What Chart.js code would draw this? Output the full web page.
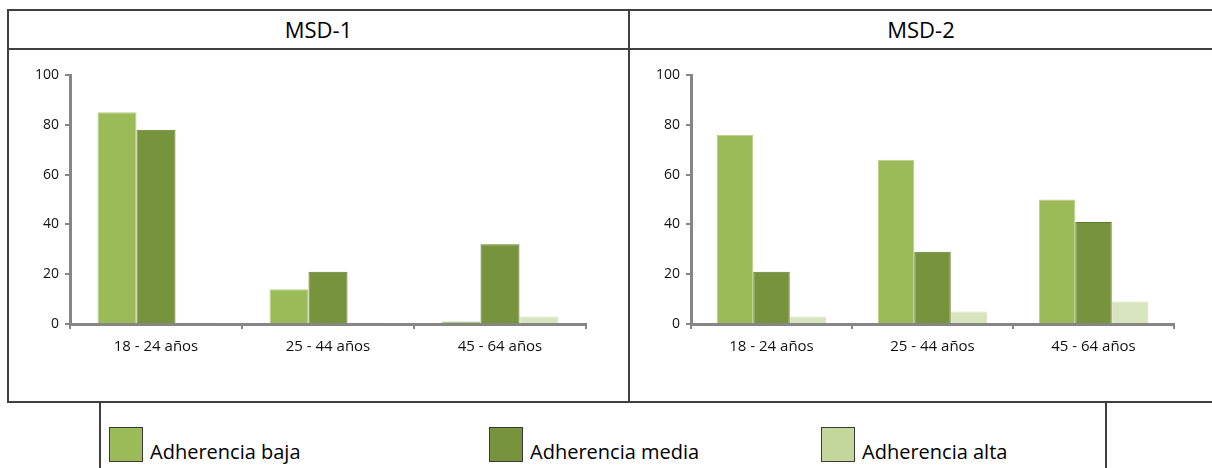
<!DOCTYPE html>
<html>
<head>
<meta charset="utf-8">
<script src="https://cdn.jsdelivr.net/npm/chart.js@4.4.1/dist/chart.umd.min.js"></script>
<style>
  body { margin: 0; background: #fff; width: 1212px; height: 468px; overflow: hidden; position: relative; font-family: "Open Sans", "Noto Sans", sans-serif; }
  .line { position: absolute; background: #404040; }
  .title { position: absolute; top: 10px; height: 38px; line-height: 38px; text-align: center; font-size: 22px; color: #000; }
  .panel { position: absolute; top: 50px; height: 352px; }
  .legend-item { position: absolute; top: 427px; height: 36px; }
  .swatch { position: absolute; left: 0; top: 0; width: 32px; height: 33px; border: 1.5px solid #3a3a3a; }
  .legend-item span { position: absolute; left: 41px; top: 11px; font-size: 20px; white-space: nowrap; color: #000; }
</style>
</head>
<body>
<!-- table borders -->
<div class="line" style="left:7px; top:9px; width:1205px; height:2px;"></div>
<div class="line" style="left:7px; top:48px; width:1205px; height:2px;"></div>
<div class="line" style="left:7px; top:401px; width:1205px; height:2px;"></div>
<div class="line" style="left:7px; top:9px; width:2px; height:394px;"></div>
<div class="line" style="left:628px; top:9px; width:2px; height:394px;"></div>
<div class="line" style="left:99px; top:402px; width:2px; height:66px;"></div>
<div class="line" style="left:1105px; top:402px; width:2px; height:66px;"></div>

<div class="title" style="left:9px; width:619px;">MSD-1</div>
<div class="title" style="left:630px; width:582px;">MSD-2</div>

<div class="panel" style="left:9px; width:619px;"><canvas id="chart1"></canvas></div>
<div class="panel" style="left:630px; width:580px;"><canvas id="chart2"></canvas></div>

<div id="legend"></div>

<script>
const categories = ["18 - 24 años", "25 - 44 años", "45 - 64 años"];
const seriesNames = ["Adherencia baja", "Adherencia media", "Adherencia alta"];

// MSD-1
const msd1Baja = [85, 14, 1];
const msd1Media = [78, 21, 32];
const msd1Alta = [0.5, 0.5, 3];

// MSD-2
const msd2Baja = [76, 66, 50];
const msd2Media = [21, 29, 41];
const msd2Alta = [3, 5, 9];

const yTicks = [0, 20, 40, 60, 80, 100];

const barColors = ["#9BBB59", "#77933C", "#D7E4BD"];
const barBorders = ["#B5CE86", "#5F7A2C", "#D7E4BD"];
const legendColors = ["#9BBB59", "#77933C", "#C3D69B"];

function makeChart(id, values, yWidth, padRight) {
  const ctx = document.getElementById(id).getContext("2d");
  return new Chart(ctx, {
    type: "bar",
    data: {
      labels: categories,
      datasets: values.map((v, i) => ({
        label: seriesNames[i],
        data: v,
        backgroundColor: barColors[i],
        borderColor: barBorders[i],
        borderWidth: 1,
        categoryPercentage: 0.68,
        barPercentage: 1
      }))
    },
    options: {
      responsive: false,
      animation: false,
      layout: { padding: { top: 25, right: padRight, bottom: 0, left: 0 } },
      plugins: { legend: { display: false }, tooltip: { enabled: false } },
      scales: {
        x: {
          grid: { display: true, drawOnChartArea: false, offset: true, color: "#868686", lineWidth: 2, tickLength: 5 },
          border: { color: "#868686", width: 3 },
          ticks: { color: "#111", font: { family: "Open Sans", size: 15 }, padding: 9 },
          afterFit: s => { s.height = 78; }
        },
        y: {
          min: 0,
          max: 100,
          afterBuildTicks: s => { s.ticks = yTicks.map(v => ({ value: v })); },
          grid: { display: true, drawOnChartArea: false, color: "#868686", lineWidth: 2, tickLength: 5 },
          border: { color: "#868686", width: 3 },
          ticks: { color: "#111", font: { family: "Open Sans", size: 14 }, padding: 6 },
          afterFit: s => { s.width = yWidth; }
        }
      }
    }
  });
}

document.getElementById("chart1").width = 619;
document.getElementById("chart1").height = 352;
document.getElementById("chart2").width = 580;
document.getElementById("chart2").height = 352;

makeChart("chart1", [msd1Baja, msd1Media, msd1Alta], 61, 42);
makeChart("chart2", [msd2Baja, msd2Media, msd2Alta], 61, 36);

// Legend
const legendX = [109, 489, 821];
const legend = document.getElementById("legend");
seriesNames.forEach((name, i) => {
  const item = document.createElement("div");
  item.className = "legend-item";
  item.style.left = legendX[i] + "px";
  item.innerHTML = '<div class="swatch" style="background:' + legendColors[i] + '"></div><span>' + name + '</span>';
  legend.appendChild(item);
});
</script>
</body>
</html>
